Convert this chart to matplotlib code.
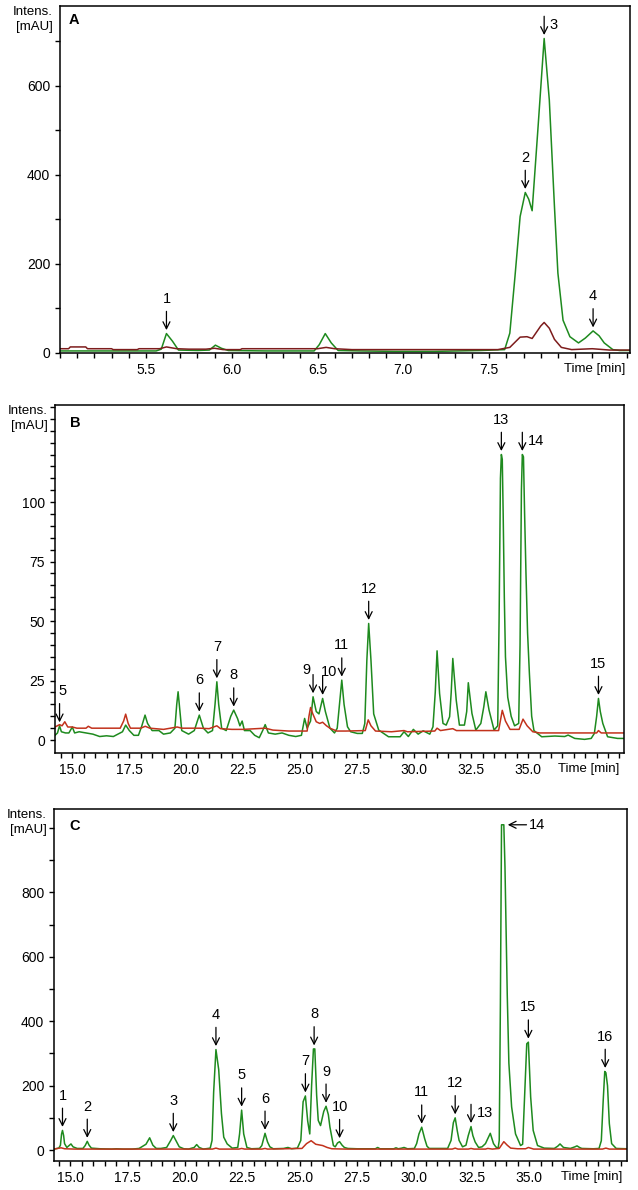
import numpy as np
import matplotlib.pyplot as plt
from matplotlib.ticker import MultipleLocator, FixedLocator

plt.rcParams['font.family'] = ['Liberation Sans', 'DejaVu Sans']
plt.rcParams['font.size'] = 10

GREEN = '#1e8a1e'
RED_A = '#7d1c1c'
RED = '#c2321c'

# ---------------- panel A ----------------
a_green_t = [5.00, 5.30, 5.56, 5.59, 5.62, 5.655, 5.69, 5.80, 5.87, 5.905, 5.94, 5.98,
             6.20, 6.48, 6.51, 6.545, 6.58, 6.62, 6.75, 6.95, 7.18, 7.45, 7.59, 7.62,
             7.65, 7.68, 7.71, 7.73, 7.75, 7.785, 7.82, 7.85, 7.88, 7.90, 7.93, 7.97,
             8.02, 8.06, 8.105, 8.14, 8.17, 8.22, 8.26, 8.32]
a_green_v = [4, 4, 4, 8, 43, 26, 6, 5, 6, 17, 10, 5,
             4, 4, 18, 43, 22, 5, 4, 3, 3, 5, 7, 44,
             171, 306, 360, 345, 319, 510, 706, 568, 328, 179, 73, 36,
             22, 33, 49, 38, 22, 7, 5, 5]
a_red_t = [5.00, 5.05, 5.06, 5.15, 5.16, 5.30, 5.31, 5.45, 5.46, 5.58, 5.62, 5.68,
           5.75, 5.85, 5.90, 5.95, 6.05, 6.06, 6.40, 6.50, 6.55, 6.60, 6.70, 7.55,
           7.62, 7.68, 7.72, 7.75, 7.80, 7.82, 7.85, 7.88, 7.92, 7.98, 8.10, 8.20, 8.32]
a_red_v = [9, 9, 13, 13, 9, 9, 7, 7, 9, 9, 13, 9,
           8, 8, 10, 7, 7, 9, 9, 9, 12, 9, 7, 7,
           12, 35, 36, 32, 60, 68, 55, 30, 12, 7, 9, 6, 6]
a_peak_names = ['1', '2', '3', '4']
a_peak_t = [5.62, 7.71, 7.82, 8.105]
a_peak_v = [43, 360, 706, 49]
a_tick_pos = [5.5, 6.0, 6.5, 7.0, 7.5]
a_tick_lab = ['5.5', '6.0', '6.5', '7.0', '7.5']

# ---------------- panel B ----------------
b_green_t = [14.24, 14.35, 14.44, 14.52, 14.70, 14.85, 15.00, 15.10, 15.30, 15.60, 15.90,
             16.20, 16.50, 16.80, 17.00, 17.20, 17.34, 17.50, 17.70, 17.90, 18.05, 18.19,
             18.30, 18.50, 18.80, 19.00, 19.30, 19.50, 19.58, 19.64, 19.72, 19.80, 20.10,
             20.35, 20.57, 20.75, 20.95, 21.15, 21.26, 21.34, 21.42, 21.55, 21.75, 21.95,
             22.08, 22.25, 22.35, 22.45, 22.55, 22.80, 23.00, 23.20, 23.35, 23.46, 23.60,
             23.90, 24.20, 24.50, 24.80, 25.05, 25.19, 25.30, 25.45, 25.56, 25.70, 25.82,
             25.98, 26.10, 26.30, 26.50, 26.62, 26.72, 26.82, 26.92, 27.07, 27.21, 27.50,
             27.72, 27.83, 27.92, 28.00, 28.10, 28.22, 28.44, 28.87, 29.38, 29.55, 29.74,
             29.96, 30.17, 30.39, 30.68, 30.82, 30.92, 31.00, 31.11, 31.26, 31.40, 31.55,
             31.62, 31.69, 31.84, 31.98, 32.20, 32.30, 32.37, 32.53, 32.70, 32.92, 33.05,
             33.14, 33.28, 33.50, 33.66, 33.72, 33.78, 33.82, 33.86, 33.90, 33.95, 34.00,
             34.10, 34.25, 34.40, 34.58, 34.64, 34.70, 34.74, 34.79, 34.84, 34.90, 34.97,
             35.05, 35.15, 35.25, 35.59, 36.17, 36.60, 36.75, 37.04, 37.47, 37.76, 37.90,
             38.00, 38.08, 38.16, 38.27, 38.48, 38.92, 39.20]
b_green_v = [2, 3, 6, 3.5, 3, 3, 5.5, 3, 3.5, 3, 2.5,
             1.5, 1.8, 1.5, 2.5, 3.5, 6.3, 4, 2, 2, 6, 10.5,
             7, 4, 4, 2.5, 3, 5, 15, 20.3, 12, 4, 2.5,
             4, 10.5, 5, 3, 4, 15, 24.5, 15, 5, 4, 10,
             12.6, 9, 6, 8, 4, 4, 2, 1, 4, 6.5, 3,
             2.5, 3, 2, 1.5, 2, 9.1, 5, 8, 18.2, 12, 11,
             17.5, 12, 5, 3, 5, 15, 25.2, 15, 5.6, 3.5, 2.8,
             2.8, 7, 33.6, 49, 33.6, 11, 4.2, 1.4, 1.4, 3.5, 1.5,
             4.5, 2.5, 3.9, 2.5, 5.6, 20, 37.5, 19.6, 7, 6.3, 9.8,
             20, 34.3, 16.8, 6.3, 6.3, 12, 24.1, 11.2, 4.2, 7, 14,
             20.3, 12.6, 4.2, 6, 50, 110, 120, 118, 95, 60, 35,
             18, 10, 6, 7, 40, 105, 120, 119, 95, 70, 45,
             28, 10, 4, 1.4, 1.7, 1.5, 2.1, 0.7, 0.3, 0.7, 2.8,
             10, 17.5, 12, 7, 1.4, 0.7, 0.7]
b_red_t = [14.24, 14.44, 14.55, 14.67, 14.80, 15.00, 15.20, 15.60, 15.70, 15.85, 16.50,
           17.10, 17.25, 17.34, 17.45, 17.55, 18.00, 18.20, 18.40, 19.00, 19.60, 19.80,
           20.60, 21.00, 21.34, 21.50, 22.00, 22.50, 23.46, 23.80, 24.50, 25.30, 25.38,
           25.45, 25.55, 25.70, 25.85, 25.98, 26.15, 26.30, 26.60, 27.00, 27.85, 27.98,
           28.10, 28.30, 29.00, 29.55, 29.70, 30.90, 31.00, 31.15, 31.69, 31.85, 33.70,
           33.86, 34.00, 34.20, 34.60, 34.77, 34.95, 35.20, 35.50, 38.00, 38.08, 38.20, 39.20]
b_red_v = [5.5, 6.5, 6, 7.7, 5.5, 5.5, 5, 5, 5.8, 5, 5,
           5, 8, 10.9, 7, 5, 5, 5.8, 5, 4.5, 5.5, 5,
           5, 4.8, 6, 4.8, 4.5, 4.5, 5, 4.2, 3.8, 3.8, 10,
           13.7, 11, 7.7, 7, 7.5, 6, 5, 3.8, 3.8, 4, 8.5,
           6, 3.8, 3.5, 4, 3.5, 3.8, 5, 4, 4.8, 4, 4,
           12.5, 8, 4.5, 4.5, 8.8, 6, 3.5, 3, 3, 4, 3, 3]
b_peak_names = ['5', '6', '7', '8', '9', '10', '11', '12', '13', '14', '15']
b_peak_t = [14.44, 20.57, 21.34, 22.08, 25.56, 25.98, 26.82, 28.00, 33.82, 34.74, 38.08]
b_peak_v = [6, 10.5, 24.5, 12.6, 18.2, 17.5, 25.2, 49, 120, 120, 17.5]

# ---------------- panel C ----------------
c_green_t = [14.29, 14.50, 14.57, 14.62, 14.66, 14.71, 14.75, 14.85, 14.95, 15.03, 15.12,
             15.30, 15.55, 15.65, 15.74, 15.82, 15.92, 16.30, 16.80, 17.00, 17.30, 17.70,
             18.00, 18.30, 18.46, 18.60, 18.75, 18.95, 19.20, 19.38, 19.49, 19.60, 19.75,
             19.95, 20.15, 20.40, 20.51, 20.62, 20.80, 21.10, 21.18, 21.25, 21.35, 21.47,
             21.59, 21.69, 21.84, 22.06, 22.30, 22.38, 22.47, 22.56, 22.70, 22.90, 23.25,
             23.35, 23.49, 23.60, 23.70, 23.85, 24.30, 24.49, 24.65, 24.90, 25.05, 25.15,
             25.25, 25.35, 25.44, 25.52, 25.60, 25.66, 25.74, 25.81, 25.91, 26.05, 26.15,
             26.25, 26.32, 26.47, 26.55, 26.65, 26.74, 26.85, 26.95, 27.10, 27.50, 28.30,
             28.40, 28.50, 29.10, 29.20, 29.30, 29.45, 29.55, 29.70, 30.00, 30.10, 30.20,
             30.32, 30.45, 30.55, 30.65, 31.45, 31.60, 31.70, 31.78, 31.87, 31.95, 32.10,
             32.25, 32.35, 32.47, 32.55, 32.65, 32.80, 32.95, 33.10, 33.31, 33.45, 33.55,
             33.65, 33.70, 33.75, 33.80, 33.90, 33.95, 34.05, 34.12, 34.24, 34.41, 34.63,
             34.72, 34.80, 34.90, 34.97, 35.07, 35.18, 35.37, 35.66, 36.10, 36.25, 36.35,
             36.50, 36.80, 37.00, 37.09, 37.20, 37.30, 37.80, 38.05, 38.15, 38.23, 38.30,
             38.35, 38.42, 38.50, 38.60, 38.80, 39.27]
c_green_v = [3, 6, 15, 50, 61, 45, 20, 8, 14, 19, 10,
             5, 5, 14, 27, 15, 6, 4, 3, 4, 3, 3,
             5, 18, 38, 15, 5, 5, 8, 30, 45, 30, 10,
             4, 3, 8, 17, 8, 3, 6, 30, 180, 312, 250,
             113, 40, 19, 6, 8, 50, 124, 50, 8, 4, 5,
             14, 52, 25, 10, 4, 5, 8, 4, 6, 30, 150,
             168, 90, 50, 200, 314, 314, 170, 92, 76, 120, 136,
             110, 71, 14, 10, 22, 26, 15, 8, 5, 4, 4,
             8, 4, 4, 7, 4, 6, 8, 4, 5, 20, 50,
             71, 35, 12, 5, 5, 30, 85, 100, 60, 30, 10,
             15, 45, 73, 45, 25, 8, 10, 20, 52, 20, 10,
             5, 30, 450, 1010, 1010, 880, 480, 270, 134, 50, 14,
             18, 160, 330, 335, 165, 61, 14, 6, 5, 12, 19,
             8, 5, 10, 13, 8, 5, 4, 5, 29, 150, 244,
             240, 200, 82, 20, 5, 4]
c_red_t = [14.29, 14.60, 14.75, 15.20, 17.00, 21.20, 21.35, 21.50, 22.35, 22.47, 22.60,
           23.35, 23.49, 23.60, 25.10, 25.30, 25.50, 25.70, 26.00, 26.20, 26.40, 27.00,
           31.65, 31.78, 31.90, 32.35, 32.47, 32.60, 33.10, 33.20, 33.40, 33.70, 33.90,
           34.05, 34.20, 34.50, 34.85, 34.97, 35.20, 38.20, 38.35, 38.50, 39.27]
c_red_v = [3, 7, 4, 3, 3, 3, 6, 3, 3, 5, 3,
           3, 5, 3, 5, 20, 29, 18, 14, 8, 4, 3,
           3, 6, 3, 3, 5, 3, 3, 5, 3, 5, 26,
           15, 6, 4, 4, 8, 3, 3, 6, 3, 3]
c_peak_names = ['1', '2', '3', '4', '5', '6', '7', '8', '9', '10', '11', '12', '13', '14',
                '15', '16']
c_peak_t = [14.66, 15.74, 19.49, 21.35, 22.47, 23.49, 25.25, 25.63, 26.15, 26.74, 30.32,
            31.78, 32.47, 33.92, 34.97, 38.32]
c_peak_v = [61, 27, 45, 312, 124, 52, 168, 314, 136, 26, 71, 100, 73, 1010, 335, 244]

bc_tick_pos = [15.0, 17.5, 20.0, 22.5, 25.0, 27.5, 30.0, 32.5, 35.0]
bc_tick_lab = ['15.0', '17.5', '20.0', '22.5', '25.0', '27.5', '30.0', '32.5', '35.0']

TICK_LEN = 3.6
TICK_PAD = 3.5


def axes_px(left, top, right, bottom, W=638, H=1190):
    return [left / W, 1 - bottom / H, (right - left) / W, (bottom - top) / H]


def setup(ax, xlim, ylim, xmaj, xlab, xmin_step, ymaj, ymin, letter, letter_dx, letter_dy):
    ax.set_xlim(*xlim)
    ax.set_ylim(*ylim)
    ax.xaxis.set_major_locator(FixedLocator(xmaj))
    ax.set_xticklabels(xlab)
    ax.xaxis.set_minor_locator(MultipleLocator(xmin_step))
    ax.yaxis.set_major_locator(FixedLocator(ymaj))
    ax.yaxis.set_minor_locator(FixedLocator(ymin))
    ax.tick_params(which='both', direction='out', length=TICK_LEN, width=1.0,
                   pad=TICK_PAD, top=False, right=False, labelsize=10)
    for s in ax.spines.values():
        s.set_linewidth(1.1)
    ax.annotate('Time [min]', xy=(1, 0), xycoords='axes fraction',
                xytext=(-3, -(TICK_LEN + TICK_PAD)), textcoords='offset points',
                ha='right', va='top', fontsize=9.5)
    ax.annotate('Intens.\n[mAU]', xy=(0, 1), xycoords='axes fraction',
                xytext=(-5, 0), textcoords='offset points', fontsize=9.5,
                ha='right', va='top', multialignment='right', linespacing=1.35)
    ax.annotate(letter, xy=(0, 1), xycoords='axes fraction',
                xytext=(letter_dx, -letter_dy), textcoords='offset points',
                ha='left', va='center', fontweight='bold', fontsize=10.5)


def mark(ax, x, y, name, style='top'):
    arrow = dict(arrowstyle='->,head_length=0.5,head_width=0.25', lw=0.9,
                 color='black', shrinkA=0, shrinkB=2.5)
    if style == 'side':
        ax.annotate('', xy=(x, y), xytext=(16, 0), textcoords='offset points',
                    arrowprops=arrow)
        ax.annotate(name, xy=(x, y), xytext=(18, 0), textcoords='offset points',
                    ha='left', va='center', fontsize=10.5)
        return
    ax.annotate('', xy=(x, y), xytext=(0, 16), textcoords='offset points',
                arrowprops=arrow)
    dx, dy, ha = {'top': (0, 25, 'center'),
                  'top_r': (2, 25, 'center'),
                  'right': (4, 10, 'left'),
                  'upleft': (-4.5, 19, 'center'),
                  'upright': (4.5, 19, 'center')}[style]
    ax.annotate(name, xy=(x, y), xytext=(dx, dy), textcoords='offset points',
                ha=ha, va='center', fontsize=10.5)


fig = plt.figure(figsize=(6.38, 11.9), dpi=100)

# ---- A ----
axA = fig.add_axes(axes_px(60, 6, 630, 353.3))
axA.plot(a_green_t, a_green_v, color=GREEN, lw=1.1)
axA.plot(a_red_t, a_red_v, color=RED_A, lw=1.1)
setup(axA, (5.0, 8.32), (-1.3, 779), a_tick_pos, a_tick_lab, 0.1,
      [0, 200, 400, 600], np.arange(0, 780, 100), 'A', 6, 10)
a_style = {'3': 'right'}
for n, t, v in zip(a_peak_names, a_peak_t, a_peak_v):
    mark(axA, t, v, n, a_style.get(n, 'top'))

# ---- B ----
axB = fig.add_axes(axes_px(55, 405, 624, 752.7))
axB.plot(b_green_t, b_green_v, color=GREEN, lw=1.1)
axB.plot(b_red_t, b_red_v, color=RED, lw=1.1)
setup(axB, (14.24, 39.2), (-5.3, 140.8), bc_tick_pos, bc_tick_lab, 0.5,
      [0, 25, 50, 75, 100], np.arange(0, 141, 5), 'B', 11, 13)
b_style = {'5': 'top_r', '9': 'upleft', '10': 'upright', '14': 'right'}
for n, t, v in zip(b_peak_names, b_peak_t, b_peak_v):
    mark(axB, t, v, n, b_style.get(n, 'top'))

# ---- C ----
axC = fig.add_axes(axes_px(54, 809, 627, 1161))
axC.plot(c_green_t, c_green_v, color=GREEN, lw=1.1)
axC.plot(c_red_t, c_red_v, color=RED, lw=1.1)
setup(axC, (14.29, 39.27), (-34, 1059), bc_tick_pos, bc_tick_lab, 0.5,
      [0, 200, 400, 600, 800], np.arange(0, 1060, 100), 'C', 11, 12)
c_style = {'13': 'right', '14': 'side'}
for n, t, v in zip(c_peak_names, c_peak_t, c_peak_v):
    mark(axC, t, v, n, c_style.get(n, 'top'))

fig.savefig('out.png', dpi=100)
